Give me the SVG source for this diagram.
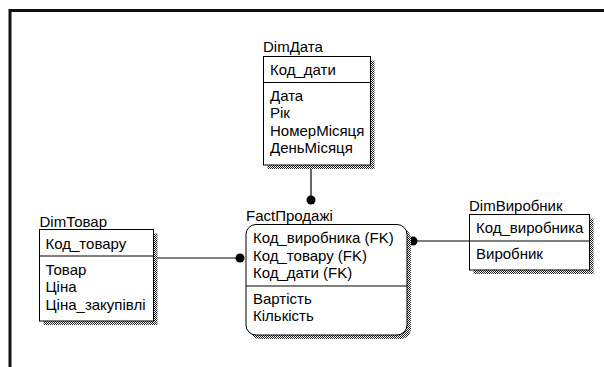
<svg xmlns="http://www.w3.org/2000/svg" width="604" height="367" viewBox="0 0 604 367">
<defs>
<pattern id="dither" width="2" height="2" patternUnits="userSpaceOnUse">
<rect width="2" height="2" fill="#ffffff"/>
<rect x="0" y="0" width="1" height="1" fill="#222"/>
<rect x="1" y="1" width="1" height="1" fill="#222"/>
</pattern>
</defs>
<style>
text { font-family: "Liberation Sans", Arial, sans-serif; font-size: 15px; fill: #000; }
.box { fill: #fff; stroke: #000; stroke-width: 1; }
.shadow { fill: url(#dither); stroke: none; }
.div { stroke: #000; stroke-width: 1; }
.conn { stroke: #000; stroke-width: 1.2; fill: none; }
.dot { fill: #000; }
</style>
<rect x="0" y="0" width="604" height="367" fill="#fff"/>
<path d="M10 367 V10.5 H604" fill="none" stroke="#111" stroke-width="3"/>

<g id="connectors">
<line class="conn" x1="311" y1="165" x2="311" y2="200"/>
<circle class="dot" cx="311" cy="200" r="4.5"/>
<line class="conn" x1="153.5" y1="258" x2="240" y2="258"/>
<circle class="dot" cx="240" cy="258" r="4.5"/>
<line class="conn" x1="413" y1="241" x2="469.5" y2="241"/>
<circle class="dot" cx="413" cy="241" r="4.5"/>
</g>

<g id="DimData">
<text x="263" y="52">DimДата</text>
<rect class="shadow" x="267.5" y="60.5" width="107" height="108.5"/>
<rect class="box" x="263.5" y="56.5" width="107" height="108.5"/>
<line class="div" x1="263.5" y1="82.5" x2="370.5" y2="82.5"/>
<text x="270" y="75">Код_дати</text>
<text x="270" y="100.5">Дата</text>
<text x="270" y="118">Рік</text>
<text x="270" y="135.5">НомерМісяця</text>
<text x="270" y="153">ДеньМісяця</text>
</g>

<g id="DimTovar">
<text x="39.5" y="226.5">DimТовар</text>
<rect class="shadow" x="43.5" y="233.5" width="114" height="91.5"/>
<rect class="box" x="39.5" y="229.5" width="114" height="91.5"/>
<line class="div" x1="39.5" y1="256" x2="153.5" y2="256"/>
<text x="45.5" y="248.5">Код_товару</text>
<text x="45.5" y="274.5">Товар</text>
<text x="45.5" y="292">Ціна</text>
<text x="45.5" y="309.5">Ціна_закупівлі</text>
</g>

<g id="FactProdazhi">
<text x="246" y="221">FactПродажі</text>
<rect class="shadow" x="250" y="228.5" width="161" height="110.5" rx="10"/>
<rect class="box" x="246" y="224.5" width="161" height="110.5" rx="10"/>
<line class="div" x1="246" y1="286" x2="407" y2="286"/>
<text x="253" y="243">Код_виробника (FK)</text>
<text x="253" y="260.5">Код_товару (FK)</text>
<text x="253" y="278">Код_дати (FK)</text>
<text x="253" y="304">Вартість</text>
<text x="253" y="321">Кількість</text>
</g>

<g id="DimVyrobnyk">
<text x="469" y="210.5">DimВиробник</text>
<rect class="shadow" x="473.5" y="218.5" width="120" height="55.5"/>
<rect class="box" x="469.5" y="214.5" width="120" height="55.5"/>
<line class="div" x1="469.5" y1="241" x2="589.5" y2="241"/>
<text x="476" y="233">Код_виробника</text>
<text x="476" y="259">Виробник</text>
</g>
</svg>
